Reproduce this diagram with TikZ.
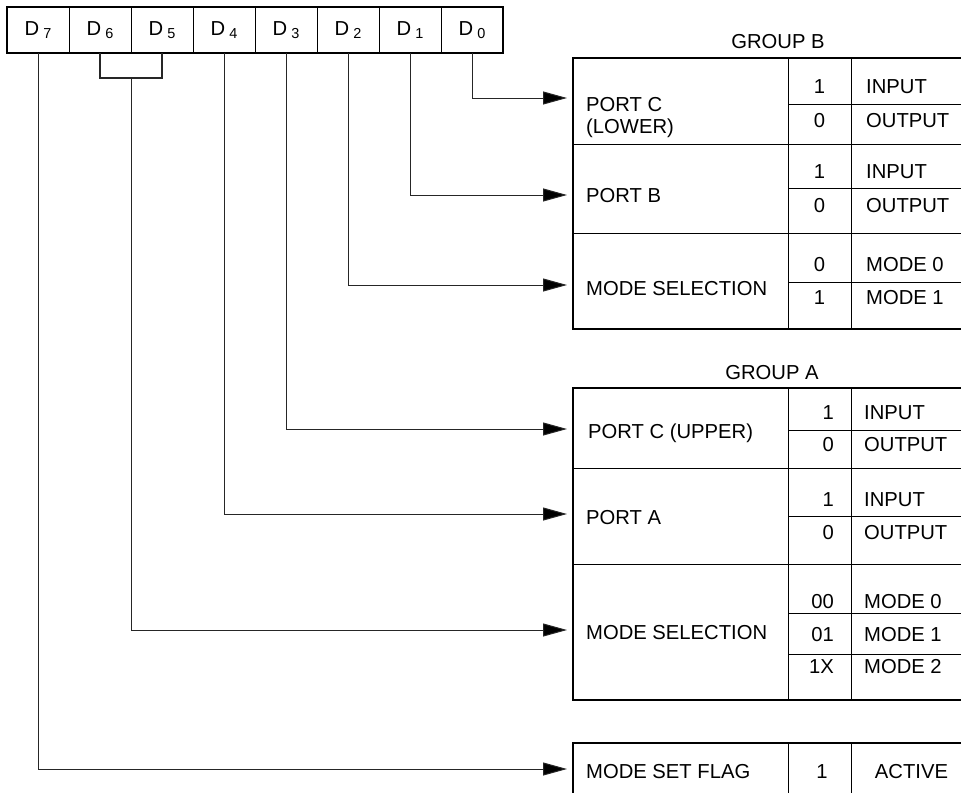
\documentclass[tikz,border=0pt]{standalone}
\usepackage{fontspec}
\setmainfont{Liberation Sans}
\usetikzlibrary{arrows.meta}

\tikzset{
  lbl/.style={font=\fontsize{20.3}{24}\selectfont, inner sep=0pt},
  lw/.style={lbl, anchor=base west},
  lc/.style={lbl, anchor=base},
  lr/.style={lbl, anchor=base east},
  bitcell/.style={draw, line width=1bp, minimum width=62bp, minimum height=46bp,
    inner sep=0pt, font=\fontsize{20.3}{24}\selectfont, text height=14.5bp, text depth=3bp},
  frame/.style={line width=1.8bp},
  rule/.style={line width=1bp},
  feed/.style={line width=1bp, black!85, -{Triangle[length=24bp,width=13bp,fill=black]}},
  tie/.style={line width=1.8bp, black!85},
}
\newcommand{\bitname}[1]{D\hspace{4bp}\raisebox{-2.5bp}{\fontsize{14.5}{16}\selectfont #1}}

\begin{document}
\begin{tikzpicture}[x=1bp,y=-1bp]
\useasboundingbox (0,0) rectangle (961,793);

% control word register
\foreach \b/\xc in {7/38,6/100,5/162,4/224,3/286,2/348,1/410,0/472}
  \node[bitcell] (D\b) at (\xc,30) {\bitname{\b}};
\draw[frame] (7,7) rectangle (503,53);

% ---------------- GROUP B ----------------
\node[lc] (grpB) at (778,49) {GROUP B};
\draw[frame] (961,58) -- (573,58) -- (573,329) -- (961,329);
\draw[rule] (788,58) -- (788,329) (851,58) -- (851,329);
\draw[rule] (573,144) -- (961,144) (573,233) -- (961,233);
\draw[rule] (788,104) -- (961,104) (788,188) -- (961,188) (788,282) -- (961,282);

\node[lw] (pcl1) at (586,111) {PORT C};
\node[lw] (pcl2) at (586,133) {(LOWER)};
\node[lc] at (819.5,94) {1};   \node[lw] at (866,94) {INPUT};
\node[lc] at (819.5,127) {0};  \node[lw] at (866,127) {OUTPUT};

\node[lw] (pb) at (586,202) {PORT B};
\node[lc] at (819.5,178) {1};  \node[lw] at (866,178) {INPUT};
\node[lc] at (819.5,212) {0};  \node[lw] at (866,212) {OUTPUT};

\node[lw] (msb) at (586,295) {MODE SELECTION};
\node[lc] at (819.5,271) {0};  \node[lw] at (866,271) {MODE 0};
\node[lc] at (819.5,304) {1};  \node[lw] at (866,304) {MODE 1};

% ---------------- GROUP A ----------------
\node[lc] (grpA) at (772,379) {GROUP A};
\draw[frame] (961,388) -- (573,388) -- (573,700) -- (961,700);
\draw[rule] (788,388) -- (788,700) (851,388) -- (851,700);
\draw[rule] (573,468) -- (961,468) (573,564) -- (961,564);
\draw[rule] (788,430) -- (961,430) (788,516) -- (961,516)
            (788,613) -- (961,613) (788,654) -- (961,654);

\node[lw] (pcu) at (588,438) {PORT C (UPPER)};
\node[lr] at (834,419) {1};   \node[lw] at (864,419) {INPUT};
\node[lr] at (834,451) {0};   \node[lw] at (864,451) {OUTPUT};

\node[lw] (pa) at (586,524) {PORT A};
\node[lr] at (834,506) {1};   \node[lw] at (864,506) {INPUT};
\node[lr] at (834,539) {0};   \node[lw] at (864,539) {OUTPUT};

\node[lw] (msa) at (586,639) {MODE SELECTION};
\node[lr] at (834,608) {00};  \node[lw] at (864,608) {MODE 0};
\node[lr] at (834,641) {01};  \node[lw] at (864,641) {MODE 1};
\node[lr] at (834,673) {1X};  \node[lw] at (864,673) {MODE 2};

% ---------------- mode set flag ----------------
\draw[frame] (961,743) -- (573,743) -- (573,794);
\draw[rule] (788,743) -- (788,794) (851,743) -- (851,794);
\node[lw] (flag) at (586,778) {MODE SET FLAG};
\node[lc] at (822,778) {1};
\node[lc] at (911.5,778) {ACTIVE};

% arrow end points in front of each field
\coordinate (inPCL) at (567,98);
\coordinate (inPB)  at (567,195);
\coordinate (inMSB) at (567,285);
\coordinate (inPCU) at (567,429);
\coordinate (inPA)  at (567,514);
\coordinate (inMSA) at (567,630);
\coordinate (inFLG) at (567,769);
\coordinate (d65)   at (131,78);

% bit connectors
\draw[feed] (D0.south) |- (inPCL);
\draw[feed] (D1.south) |- (inPB);
\draw[feed] (D2.south) |- (inMSB);
\draw[feed] (D3.south) |- (inPCU);
\draw[feed] (D4.south) |- (inPA);
\draw[tie] (D6.south) |- (d65) -| (D5.south);
\draw[feed] (d65) |- (inMSA);
\draw[feed] (D7.south) |- (inFLG);
\end{tikzpicture}
\end{document}
